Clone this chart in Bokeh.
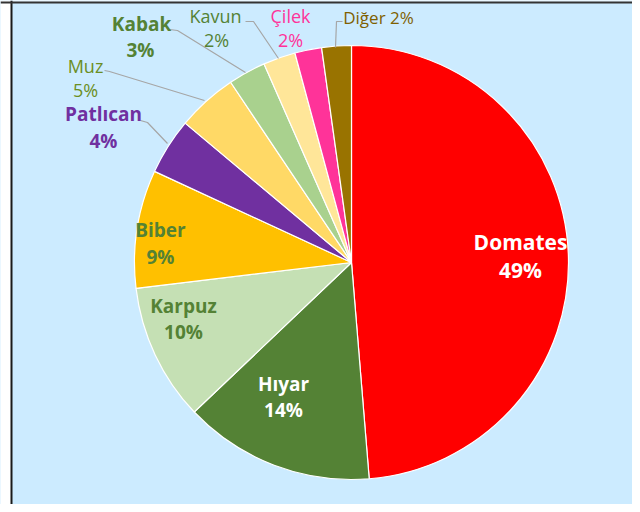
import math
from bokeh.plotting import figure
from bokeh.models import ColumnDataSource, Range1d, Span, BoxAnnotation
from bokeh.core.properties import value
from bokeh.embed import file_html
from bokeh.resources import INLINE

# ---- data (clockwise from 12 o'clock) ----
names = ["Domates", "Hıyar", "Karpuz", "Biber", "Patlıcan", "Muz", "Kabak", "Kavun", "Çilek", "Diğer"]
values = [48.7, 14.2, 10.2, 8.8, 4.2, 4.5, 2.8, 2.4, 2.0, 2.2]
pct_labels = ["49%", "14%", "10%", "9%", "4%", "5%", "3%", "2%", "2%", "2%"]

# ---- style ----
slice_colors = ["#FF0000", "#548235", "#C5E0B4", "#FFC000", "#7030A0",
                "#FFD966", "#A9D18E", "#FFE699", "#FF3399", "#997300"]
text_colors = ["#FFFFFF", "#FFFFFF", "#548235", "#548235", "#7030A0",
               "#6B8E23", "#548235", "#548235", "#FF3399", "#7F6000"]
text_weights = ["bold", "bold", "bold", "bold", "bold",
                "normal", "bold", "normal", "normal", "normal"]
text_sizes = ["21px", "19px", "19px", "19px", "19px",
              "18px", "19px", "18px", "18px", "17px"]
# label anchor positions in image pixels (name line, percent line)
name_pos = [(520, 241), (283, 383), (183, 305), (160, 229), (103, 113),
            (85, 65), (141, 23), (215, 15), (290, 15), (378, 17)]
pct_pos = [(520, 269), (283, 409), (183, 331), (160, 256), (103, 140),
           (85, 89), (140, 49), (216, 39), (290, 39), None]
# leader lines in image pixels
leaders = [
    [(169, 29), (177, 30), (245, 72)],
    [(245, 21), (253, 21), (278, 58)],
    [(104, 70), (109, 71), (204, 100)],
    [(140, 120), (147, 122), (167, 143)],
    [(342, 21), (336, 21), (335, 47)],
]

W, H = 632, 504
CX, CY, R = 351, 262, 217   # image pixel centre / radius

def px(x):
    return x

def py(y):
    return H - y

p = figure(width=W, height=H, output_backend="svg", toolbar_location=None,
           x_range=Range1d(0, W), y_range=Range1d(0, H),
           x_axis_type=None, y_axis_type=None, min_border=0)
p.grid.visible = False
p.background_fill_color = "#CCEBFF"
p.border_fill_color = "#CCEBFF"
p.outline_line_color = None

# white strip and frame lines
p.add_layout(BoxAnnotation(left=0, right=10.5, fill_color="white", fill_alpha=1, line_color=None))
p.add_layout(BoxAnnotation(bottom=H - 1, top=H, fill_color="white", fill_alpha=1, line_color=None))
p.add_layout(Span(location=11, dimension="height", line_color="#1a1a1a", line_width=2))
p.add_layout(Span(location=H - 2, dimension="width", line_color="#333333", line_width=2))

total = sum(values)
starts, ends = [], []
cum = 0.0
for v in values:
    starts.append(math.pi / 2 - 2 * math.pi * cum / total)
    cum += v
    ends.append(math.pi / 2 - 2 * math.pi * cum / total)

src = ColumnDataSource(dict(x=[px(CX)] * len(values), y=[py(CY)] * len(values),
                            start=starts, end=ends, color=slice_colors))
p.wedge(x="x", y="y", radius=R, start_angle="start", end_angle="end",
        direction="clock", fill_color="color", line_color="white", line_width=1.2,
        source=src)

for pts in leaders:
    p.line([px(a) for a, b in pts], [py(b) for a, b in pts], line_color="#A6A6A6", line_width=1.2)

for i, n in enumerate(names):
    nx, ny = name_pos[i]
    if pct_pos[i] is None:
        p.text([px(nx)], [py(ny)], text=[f"{n} {pct_labels[i]}"], text_align="center",
               text_baseline="middle", text_font=value("Open Sans"), text_font_size=text_sizes[i],
               text_font_style=text_weights[i], text_color=text_colors[i])
        continue
    p.text([px(nx)], [py(ny)], text=[n], text_align="center", text_baseline="middle",
           text_font=value("Open Sans"), text_font_size=text_sizes[i],
           text_font_style=text_weights[i], text_color=text_colors[i])
    qx, qy = pct_pos[i]
    p.text([px(qx)], [py(qy)], text=[pct_labels[i]], text_align="center", text_baseline="middle",
           text_font=value("Open Sans"), text_font_size=text_sizes[i],
           text_font_style=text_weights[i], text_color=text_colors[i])

open("out.html", "w").write(file_html(p, INLINE))
